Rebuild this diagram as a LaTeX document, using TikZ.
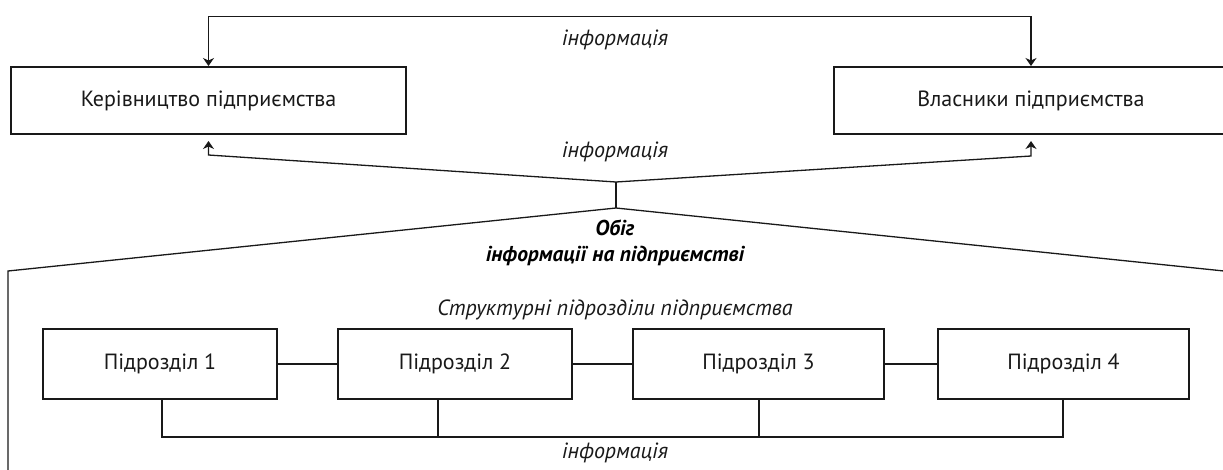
\documentclass[tikz,border=0pt]{standalone}
\usepackage{fontspec}
\setmainfont{PT Sans}
\usetikzlibrary{arrows.meta,calc}
\tikzset{
  box/.style={draw=black!90, line width=2pt, minimum height=67pt, inner sep=0pt, font=\fontsize{22}{25}\selectfont, text=black!90},
  sub/.style={draw=black!90, line width=2pt, minimum height=70pt, inner sep=0pt, font=\fontsize{22}{25}\selectfont, text=black!90},
  conn/.style={line width=1.3pt, draw=black!90},
  tip/.tip={Stealth[length=8pt,width=11pt,inset=2.5pt]},
  arr/.style={conn, -tip},
  lbl/.style={font=\fontsize{22}{25}\selectfont\itshape, text=black!90},
  blbl/.style={font=\fontsize{21.5}{26}\selectfont\bfseries\itshape, text=black, align=center},
}
\begin{document}
\begin{tikzpicture}[x=1pt,y=-1pt]
\useasboundingbox (0,0) rectangle (1223,469);
\clip (0,0) rectangle (1223,469);
\fill[white] (0,0) rectangle (1223,469);
% top boxes
\node[box, minimum width=395pt] (kerivn) at (208.5,100.5) {Керівництво підприємства};
\node[box, minimum width=395pt] (vlasn) at (1031,100.5) {Власники підприємства};
% top connector
\coordinate (top) at (615,16.5);
\draw[conn, tip-tip]
  (kerivn.north) -- (kerivn.north |- top) -- (vlasn.north |- top) -- (vlasn.north);
\node[lbl] (inf1) at (615,40) {інформація};
% hub
\coordinate (hub) at (616,182);
\coordinate (hub2) at (616,208);
\draw[arr] (hub) -- ([yshift=-20pt]kerivn.south) -- ([yshift=-6pt]kerivn.south);
\draw[arr] (hub) -- ([yshift=-21pt]vlasn.south) -- ([yshift=-6pt]vlasn.south);
\node[lbl] (inf2) at (615,152) {інформація};
\draw[conn] (hub) -- (hub2);
\coordinate (lc) at (8,271);
\coordinate (rc) at (1224,271);
\draw[conn] (lc |- 0,475) -- (lc) -- (hub2) -- (rc) -- (rc |- 0,475);
\node[blbl] (obig) at (615,243) {Обіг\\інформації на підприємстві};
\node[lbl] (struct) at (615,310) {Структурні підрозділи підприємства};
% subunits
\node[sub, minimum width=234pt] (p1) at (160,364) {Підрозділ 1};
\node[sub, minimum width=234pt] (p2) at (455,364) {Підрозділ 2};
\node[sub, minimum width=251pt] (p3) at (758.5,364) {Підрозділ 3};
\node[sub, minimum width=251pt] (p4) at (1063.5,364) {Підрозділ 4};
\draw[conn] (p1) -- (p2);
\draw[conn] (p2) -- (p3);
\draw[conn] (p3) -- (p4);
\coordinate (bus) at (615,437);
\draw[conn] ([xshift=2pt]p1.south) -- ([xshift=2pt]p1.south |- bus) -- ([xshift=-0.5pt]p4.south |- bus) -- ([xshift=-0.5pt]p4.south);
\draw[conn] ([xshift=-17pt]p2.south) -- ([xshift=-17pt]p2.south |- bus);
\draw[conn] ([xshift=0.5pt]p3.south) -- ([xshift=0.5pt]p3.south |- bus);
\node[lbl] (inf3) at (615,453) {інформація};
\end{tikzpicture}
\end{document}
